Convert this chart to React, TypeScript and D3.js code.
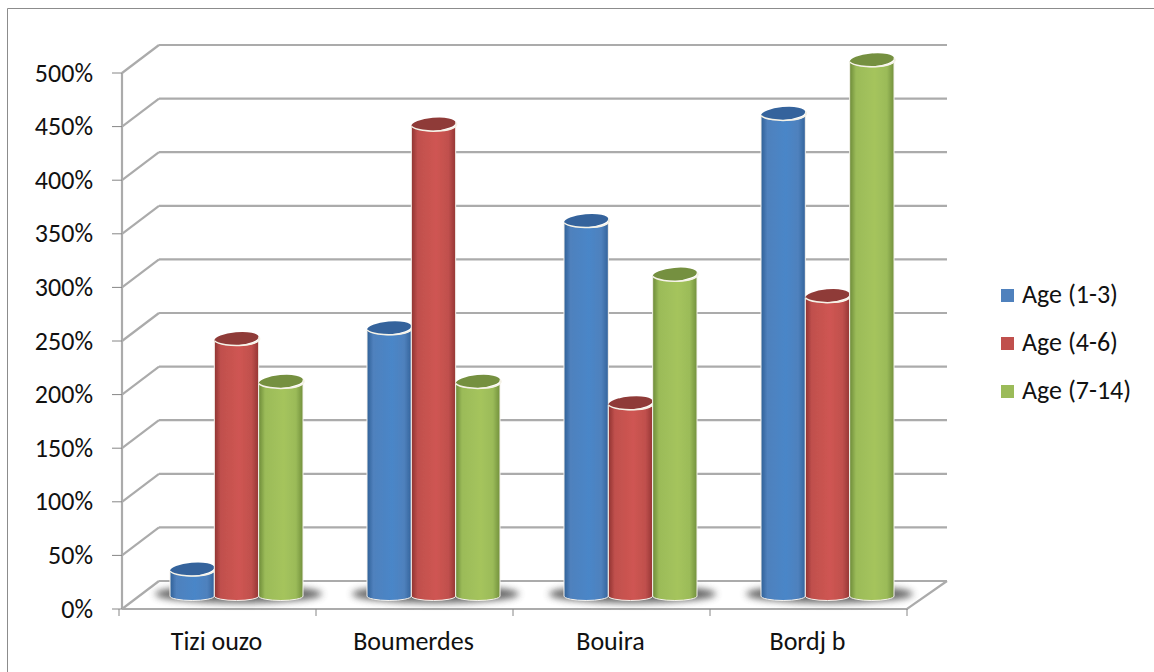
import React from "react";
import * as d3 from "d3";

const categories = ["Tizi ouzo", "Boumerdes", "Bouira", "Bordj b"];
const seriesNames = ["Age (1-3)", "Age (4-6)", "Age (7-14)"];
const age1to3 = [25, 250, 350, 450];
const age4to6 = [240, 440, 180, 280];
const age7to14 = [200, 200, 300, 500];
const seriesValues = [age1to3, age4to6, age7to14];
const yTicks = [0, 50, 100, 150, 200, 250, 300, 350, 400, 450, 500];

const palette = [
  { base: "#4f81bd", light: "#4a86c8", dark: "#2f5f96", top: "#34649c" },
  { base: "#c0504d", light: "#cf5552", dark: "#8e3230", top: "#8f3a38" },
  { base: "#9bbb59", light: "#a5c45c", dark: "#6c8a38", top: "#75903f" },
];

const FONT = "Carlito, Lato, 'Open Sans', sans-serif";
const depthX = 37;
const depthY = -28;
const axisX = 122;
const floorY = 609;
const axisRight = 907;

const yFront = d3.scaleLinear().domain([0, 500]).range([floorY, 73]);
const yBar = d3.scaleLinear().domain([0, 500]).range([596, 60]);
const xGroup = d3.scaleBand<string>().domain(categories).range([119, axisRight]);
const xSeries = d3
  .scaleBand<string>()
  .domain(seriesNames)
  .range([51, 184])
  .paddingInner(0);

const GRID = "#ababab";

export default function App() {
  const rx = xSeries.bandwidth() / 2;
  const ry = 6.5;
  return (
    <svg
      width={1154}
      height={672}
      style={{ position: "absolute", left: 0, top: 0, background: "#fff" }}
      fontFamily={FONT}
    >
      <defs>
        {palette.map((c, i) => (
          <linearGradient key={i} id={`cyl${i}`} x1="0" x2="1" y1="0" y2="0">
            <stop offset="0" stopColor={c.dark} />
            <stop offset="0.14" stopColor={c.base} />
            <stop offset="0.55" stopColor={c.light} />
            <stop offset="0.82" stopColor={c.base} />
            <stop offset="1" stopColor={c.dark} />
          </linearGradient>
        ))}
        <filter id="soft" x="-20%" y="-20%" width="140%" height="140%">
          <feGaussianBlur stdDeviation="0.7" />
        </filter>
        <filter id="shadow" filterUnits="userSpaceOnUse" x="100" y="560" width="860" height="70">
          <feGaussianBlur stdDeviation="3.5" />
        </filter>
      </defs>

      {/* outer frame: top and left edges only */}
      <path d="M7.5,672V8.5H1154" fill="none" stroke="#8c8c8c" strokeWidth={1} />

      {/* gridlines, side wall and floor */}
      <g filter="url(#soft)">
        {yTicks.map((t) => (
          <g key={t} stroke={GRID} strokeWidth={2.2} fill="none">
            <line x1={axisX + depthX} x2={axisRight + depthX + 3} y1={yFront(t) + depthY} y2={yFront(t) + depthY} />
            <line x1={axisX} x2={axisX + depthX} y1={yFront(t)} y2={yFront(t) + depthY} />
          </g>
        ))}
        <path
          d={`M${axisX},${floorY}L${axisRight},${floorY}L${axisRight + depthX + 3},${floorY + depthY}`}
          fill="none"
          stroke={GRID}
          strokeWidth={2.2}
        />
        <line x1={axisX} x2={axisX} y1={yFront(500)} y2={floorY} stroke={GRID} strokeWidth={2.2} />
      </g>

      {/* axis ticks */}
      {yTicks.map((t) => (
        <g key={t}>
          <line x1={112} x2={axisX} y1={yFront(t)} y2={yFront(t)} stroke="#868686" strokeWidth={1} />
          <text x={93} y={yFront(t) + 8.5} textAnchor="end" fontSize={26} fill="#111">
            {t}%
          </text>
        </g>
      ))}
      {[...categories.map((c) => xGroup(c)!), axisRight].map((x) => (
        <line key={x} x1={x} x2={x} y1={floorY} y2={616} stroke="#868686" strokeWidth={1} />
      ))}
      {categories.map((c) => (
        <text key={c} x={xGroup(c)! + xGroup.bandwidth() / 2 - 1} y={650} textAnchor="middle" fontSize={26} fill="#111">
          {c}
        </text>
      ))}

      {/* floor shadows under each cluster */}
      {categories.map((c) => {
        const x0 = xGroup(c)! + xSeries.range()[0];
        const x1 = xGroup(c)! + xSeries.range()[1];
        return (
          <ellipse
            key={c}
            cx={(x0 + x1) / 2 + 2}
            cy={594}
            rx={(x1 - x0) / 2 + 17}
            ry={9}
            fill="#555"
            opacity={0.9}
            filter="url(#shadow)"
          />
        );
      })}

      {/* cylinders */}
      <g filter="url(#soft)">
        {categories.map((c, ci) =>
          seriesNames.map((s, si) => {
            const v = seriesValues[si][ci];
            const cx = xGroup(c)! + xSeries(s)! + xSeries.bandwidth() / 2;
            const top = yBar(v);
            const base = yBar(0);
            const side = `M${cx - rx},${top + 2}L${cx - rx},${base}A${rx},${ry - 2} 0 0 0 ${cx + rx},${base}L${cx + rx},${top - 2}A${rx},${ry} 0 0 1 ${cx - rx},${top + 2}Z`;
            return (
              <g key={s}>
                <path d={side} fill={`url(#cyl${si})`} stroke="#f6f3ee" strokeWidth={1} />
                <ellipse
                  cx={cx}
                  cy={top}
                  rx={rx}
                  ry={ry}
                  fill={palette[si].top}
                  transform={`rotate(-5 ${cx} ${top})`}
                />
                <path
                  d={`M${cx - rx},${top + 2}A${rx},${ry} 0 0 0 ${cx + rx},${top - 2}`}
                  fill="none"
                  stroke="#f6f3e8"
                  strokeWidth={1.5}
                />
              </g>
            );
          })
        )}
      </g>

      {/* legend */}
      {seriesNames.map((s, i) => {
        const y = 295.5 + i * 48;
        return (
          <g key={s}>
            <rect x={1001} y={y - 6.5} width={13} height={13} fill={palette[i].base} />
            <text x={1022} y={y + 7} fontSize={26} fill="#111">
              {s}
            </text>
          </g>
        );
      })}
    </svg>
  );
}
